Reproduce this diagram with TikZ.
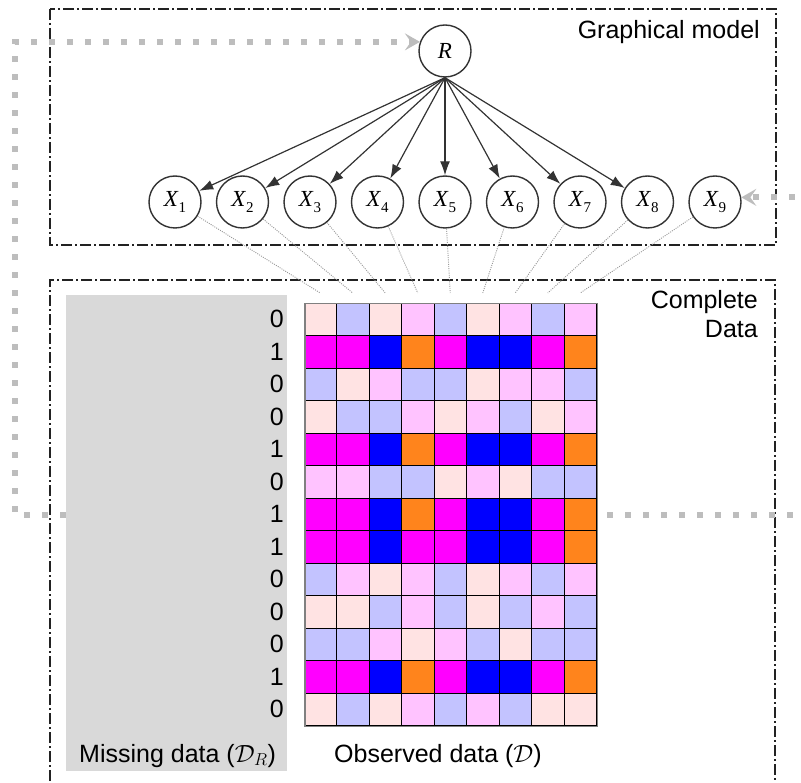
\documentclass[tikz,border=0pt]{standalone}
\usepackage{amsmath}
\usepackage{fontspec}
\setmainfont{Liberation Sans}
\newfontfamily\varfont{Liberation Serif}
\usetikzlibrary{arrows.meta,positioning,calc}
\definecolor{ink}{HTML}{333333}
\definecolor{framegray}{HTML}{222222}
\definecolor{flowgray}{HTML}{BDBDBD}
\definecolor{missbg}{HTML}{D9D9D9}
\definecolor{cella}{HTML}{FFE3E3}
\definecolor{cellb}{HTML}{C3C3FF}
\definecolor{cellc}{HTML}{FFC3FF}
\definecolor{cellm}{HTML}{FF00FF}
\definecolor{cellu}{HTML}{0000FF}
\definecolor{cello}{HTML}{FF841C}
\newcommand{\varlab}[2]{\textit{#1}\raisebox{-0.28em}{\fontsize{15}{15}\selectfont #2}}
\tikzset{
  >=Latex,
  every node/.style={font=\fontsize{25}{29}\selectfont,text=black},
  var/.style={circle,draw=ink,line width=1.4pt,fill=white,minimum size=52pt,inner sep=0pt,font=\varfont\fontsize{23}{25}\selectfont},
  panel/.style={draw=framegray,line width=1.5pt,dash pattern=on 11pt off 3pt on 2pt off 3pt},
  edge/.style={-{Latex[length=14pt,width=10pt]},line width=1.2pt,draw=ink},
  link/.style={draw=gray!80,line width=0.9pt,dash pattern=on 1pt off 1.2pt},
  flow/.style={-{Stealth[length=15pt,width=17pt,inset=6pt]},line width=6pt,draw=flowgray,dash pattern=on 6pt off 12pt},
  cellbox/.style={draw=black,line width=0.8pt}
}
\begin{document}
\begin{tikzpicture}[x=1pt,y=-1pt]
  \useasboundingbox (0,0) rectangle (801,783);
  % panels
  \draw[panel] (50,9) rectangle (776,245);
  \draw[panel] (50,800) -- (50,280) -- (775,280) -- (775,800);
  \node[anchor=base east,inner sep=0pt] (gmtitle) at (760,39) {Graphical model};
  \node[anchor=north east,align=right,inner sep=0pt] (cdtitle) at (758,290) {Complete\\Data};

  % missing data column
  \node[fill=missbg,minimum width=221pt,minimum height=476pt,anchor=north west,inner sep=0pt] (miss) at (66,295) {};
  \foreach \bit [count=\r] in {0,1,0,0,1,0,1,1,0,0,0,1,0}
    \node[anchor=east,inner sep=0pt] (bit\r) at ({284},{303+32.5*(\r-0.5)}) {\bit};
  \node[anchor=base west,inner sep=0pt] (misslabel) at (79,762) {Missing data ($\mathcal{D}_R$)};
  \node[anchor=base west,inner sep=0pt] (obslabel) at (334,762) {Observed data ($\mathcal{D}$)};

  % observed data grid
  \foreach \rowcols [count=\r] in {{a,b,a,c,b,a,c,b,c},{m,m,u,o,m,u,u,m,o},{b,a,c,b,b,a,c,c,b},
      {a,b,b,c,a,c,b,a,c},{m,m,u,o,m,u,u,m,o},{c,c,b,b,a,c,a,b,b},{m,m,u,o,m,u,u,m,o},
      {m,m,u,m,m,u,u,m,o},{b,c,a,c,b,a,c,b,c},{a,a,b,c,b,a,b,c,b},{b,b,c,a,c,b,a,b,b},
      {m,m,u,o,m,u,u,m,o},{a,b,a,c,b,c,b,a,a}}
    \foreach \col [count=\c] in \rowcols
      \filldraw[cellbox,fill=cell\col] ({304+32.5*(\c-1)},{303+32.5*(\r-1)}) rectangle ++(32.5,32.5);
  \node[draw=gray,line width=1.5pt,minimum width=292.5pt,minimum height=422.5pt,anchor=north west,inner sep=0pt] (grid) at (304,303) {};

  % graphical model
  \node[var] (rnode) at (445,51) {\textit{R}};
  \foreach \i in {1,...,9}
    \node[var] (x\i) at ({175+67.5*(\i-1)},202) {\varlab{X}{\i}};
  \foreach \i in {1,...,8}
    \draw[edge] (rnode.south) -- (x\i);
  \foreach \i in {1,...,9} {
    \coordinate (top\i) at ({304+32.5*(\i-0.5)},293);
    \draw[link] (x\i) -- (top\i);
  }

  % feedback paths
  \coordinate (lbend) at (15,515);
  \coordinate (rbend) at (830,515);
  \draw[flow] (miss.west |- lbend) -- (lbend) |- (rnode.160);
  \draw[flow,shorten <=9pt] (grid.east |- rbend) -- (rbend) |- (x9.10);
\end{tikzpicture}
\end{document}
